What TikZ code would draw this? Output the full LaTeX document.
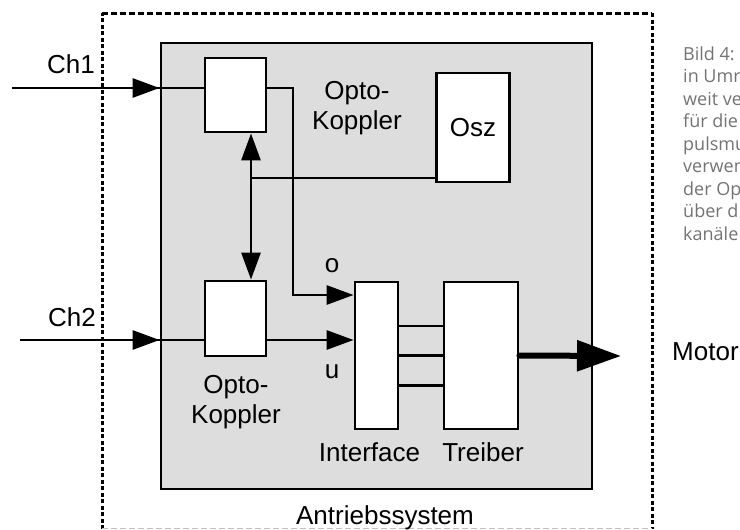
\documentclass[tikz,border=0pt]{standalone}
\usepackage{fontspec}
\setmainfont{Liberation Sans}
\newfontfamily\capfont{Open Sans}
\usetikzlibrary{arrows.meta, positioning}

\begin{document}
\begin{tikzpicture}[x=1pt, y=-1pt,
  blk/.style={draw, fill=white, line width=2.8pt, inner sep=0pt},
  lbl/.style={font=\fontsize{26}{30}\selectfont, inner sep=0pt, align=center},
  captxt/.style={font=\capfont\fontsize{18}{22}\selectfont, text=black!55, inner sep=0pt},
  wire/.style={line width=2.8pt},
  arr/.style={line width=2.8pt, -{Triangle[length=27pt, width=19pt]}},
  dbl/.style={line width=2.8pt, {Triangle[length=27pt, width=19pt]}-{Triangle[length=27pt, width=19pt]}}
]
\clip (0,0) rectangle (740,530);
% outer boundary
\draw[line width=3pt, dash pattern=on 6pt off 3pt] (102,13) -- (652,13);
\draw[line width=3pt, dash pattern=on 4pt off 2.5pt] (102,529) -- (102,13) (652,13) -- (652,529);
\draw[black!25, line width=1pt, dash pattern=on 6pt off 3pt] (102,528) -- (652,528);

\node[draw, fill=gray!27, line width=2.8pt, minimum width=431pt, minimum height=446pt, inner sep=0pt] (sys) at (376.5,266) {};

\node[blk, minimum width=61pt, minimum height=74pt] (optoA) at (235.5,95) {};
\node[blk, minimum width=61pt, minimum height=75pt] (optoB) at (235.5,318.5) {};
\node[blk, lbl, minimum width=73pt, minimum height=109pt] (osz) at (473,127.5) {Osz};
\node[blk, minimum width=43pt, minimum height=147pt] (iface) at (376.5,355.5) {};
\node[blk, minimum width=74pt, minimum height=147pt] (treib) at (481,355.5) {};

\node[lbl] (optoAtxt) at (357,108) {Opto-\\Koppler};
\node[lbl] (optoBtxt) at (236,402) {Opto-\\Koppler};
\node[lbl] (ch1) at (71,64) {Ch1};
\node[lbl] (ch2) at (72,317) {Ch2};
\node[lbl] (otxt) at (332,266) {o};
\node[lbl] (utxt) at (332,372) {u};
\node[lbl] (ifacetxt) at (369.5,452) {Interface};
\node[lbl] (treibtxt) at (483,452) {Treiber};
\node[lbl] (systxt) at (385,518) {Antriebssystem};
\node[lbl, anchor=west] (motor) at (672,352) {Motor};

% inputs
\coordinate (ch1in) at (12,88);
\coordinate (ch2in) at (20,340);
\draw[wire] (ch1in) -- ([yshift=7pt]optoA.west);
\draw[arr] (ch1in) -- (ch1in -| sys.west);
\draw[wire] (ch2in) -- ([yshift=-21.5pt]optoB.west);
\draw[arr] (ch2in) -- (ch2in -| sys.west);

% opto outputs
\coordinate (bend) at (293,295);
\draw[arr] ([yshift=7pt]optoA.east) -| (bend) -- (bend -| iface.west);
\coordinate (uin) at ([yshift=-21.5pt]optoB.east);
\draw[arr] (uin) -- (uin -| iface.west);

% oscillator
\draw[dbl] ([xshift=15.5pt]optoA.south) -- ([xshift=15.5pt]optoB.north);
\coordinate (tap) at (251,178);
\draw[wire] (tap) -- (tap -| osz.west);

% interface to driver
\foreach \dy in {29.5,0,-30}
  \draw[wire] ([yshift=\dy pt]iface.east) -- ([yshift=\dy pt]treib.west);
\coordinate (mot) at (621,356);
\draw[line width=6pt, line cap=round, -{Triangle[length=44pt, width=30pt]}] (treib.east) -- (mot);

% caption
\foreach \w [count=\i] in {Bild 4:, in Umr, weit ve, für die, pulsmu, verwen, der Op, über d, kanäle}
  \node[captxt, anchor=base west] at (683,{60+22.5*(\i-1)}) {\w};
\end{tikzpicture}
\end{document}
